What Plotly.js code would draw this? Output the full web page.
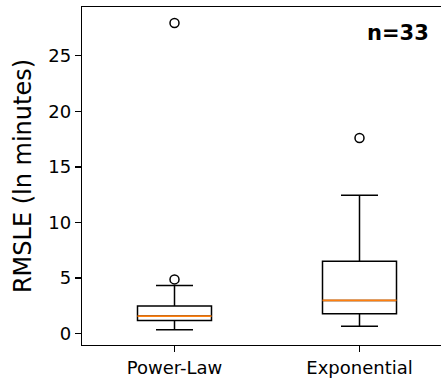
<!DOCTYPE html>
<html>
<head>
<meta charset="utf-8">
<script src="https://cdn.plot.ly/plotly-3.0.1.min.js"></script>
<style>
html,body{margin:0;padding:0;background:#fff;overflow:hidden;}
#wrap{width:441px;height:379px;overflow:hidden;position:relative;}
#chart{position:absolute;left:0;top:0;width:470px;height:379px;}
</style>
</head>
<body>
<div id="wrap"><div id="chart"></div></div>
<script>
// Data
const categories = ["Power-Law", "Exponential"];
const lowerWhisker = [0.36, 0.66];
const q1 = [1.19, 1.80];
const medians = [1.58, 2.99];
const q3 = [2.48, 6.52];
const upperWhisker = [4.34, 12.45];
const outliers = [[27.94, 4.88], [17.6]];
const sampleLabel = "n=33";

const positions = categories.map((c, i) => i + 1);
const boxWidth = 0.4;

const traces = [];
categories.forEach((c, i) => {
  traces.push({
    type: 'box', name: c, x: [positions[i]],
    q1: [q1[i]], median: [medians[i]], q3: [q3[i]],
    lowerfence: [lowerWhisker[i]], upperfence: [upperWhisker[i]],
    boxpoints: false, width: boxWidth, whiskerwidth: 0.5,
    line: {color: '#000', width: 1.5}, fillcolor: 'rgba(255,255,255,0)',
    hoverinfo: 'skip', showlegend: false
  });
});
// median lines (orange)
const mx = [], my = [];
categories.forEach((c, i) => {
  mx.push(positions[i] - boxWidth / 2, positions[i] + boxWidth / 2, null);
  my.push(medians[i], medians[i], null);
});
traces.push({type: 'scatter', mode: 'lines', x: mx, y: my,
  line: {color: '#ff7f0e', width: 1.6}, showlegend: false, hoverinfo: 'skip'});
// outliers
const ox = [], oy = [];
outliers.forEach((arr, i) => arr.forEach(v => { ox.push(positions[i]); oy.push(v); }));
traces.push({type: 'scatter', mode: 'markers', x: ox, y: oy,
  marker: {symbol: 'circle-open', size: 9, color: '#000', line: {width: 1.5, color: '#000'}},
  showlegend: false, hoverinfo: 'skip'});

const layout = {
  width: 470, height: 379,
  margin: {l: 82, r: 18, t: 7, b: 34},
  paper_bgcolor: '#fff', plot_bgcolor: '#fff',
  font: {family: 'DejaVu Sans', color: '#000', size: 18},
  showlegend: false,
  xaxis: {
    range: [0.5, 2.5], tickvals: positions, ticktext: categories,
    showgrid: false, zeroline: false,
    showline: true, linecolor: '#000', linewidth: 1.3, mirror: true,
    ticks: 'outside', ticklen: 6, tickwidth: 1.3, tickcolor: '#000',
    tickfont: {size: 18, family: 'DejaVu Sans', color: '#000'}
  },
  yaxis: {
    range: [-1.02, 29.38], tickvals: [0, 5, 10, 15, 20, 25],
    showgrid: false, zeroline: false,
    showline: true, linecolor: '#000', linewidth: 1.3, mirror: true,
    ticks: 'outside', ticklen: 6, tickwidth: 1.3, tickcolor: '#000',
    tickfont: {size: 18, family: 'DejaVu Sans', color: '#000'},
    title: {text: 'RMSLE (ln minutes)', font: {size: 24, family: 'DejaVu Sans', color: '#000'}, standoff: 9}
  },
  annotations: [{
    xref: 'paper', yref: 'paper', x: 0.943, y: 0.923,
    xanchor: 'right', yanchor: 'middle', showarrow: false,
    text: '<b>' + sampleLabel + '</b>',
    font: {size: 21, family: 'DejaVu Sans', color: '#000'}
  }]
};

Plotly.newPlot('chart', traces, layout, {displayModeBar: false, staticPlot: true});
</script>
</body>
</html>
